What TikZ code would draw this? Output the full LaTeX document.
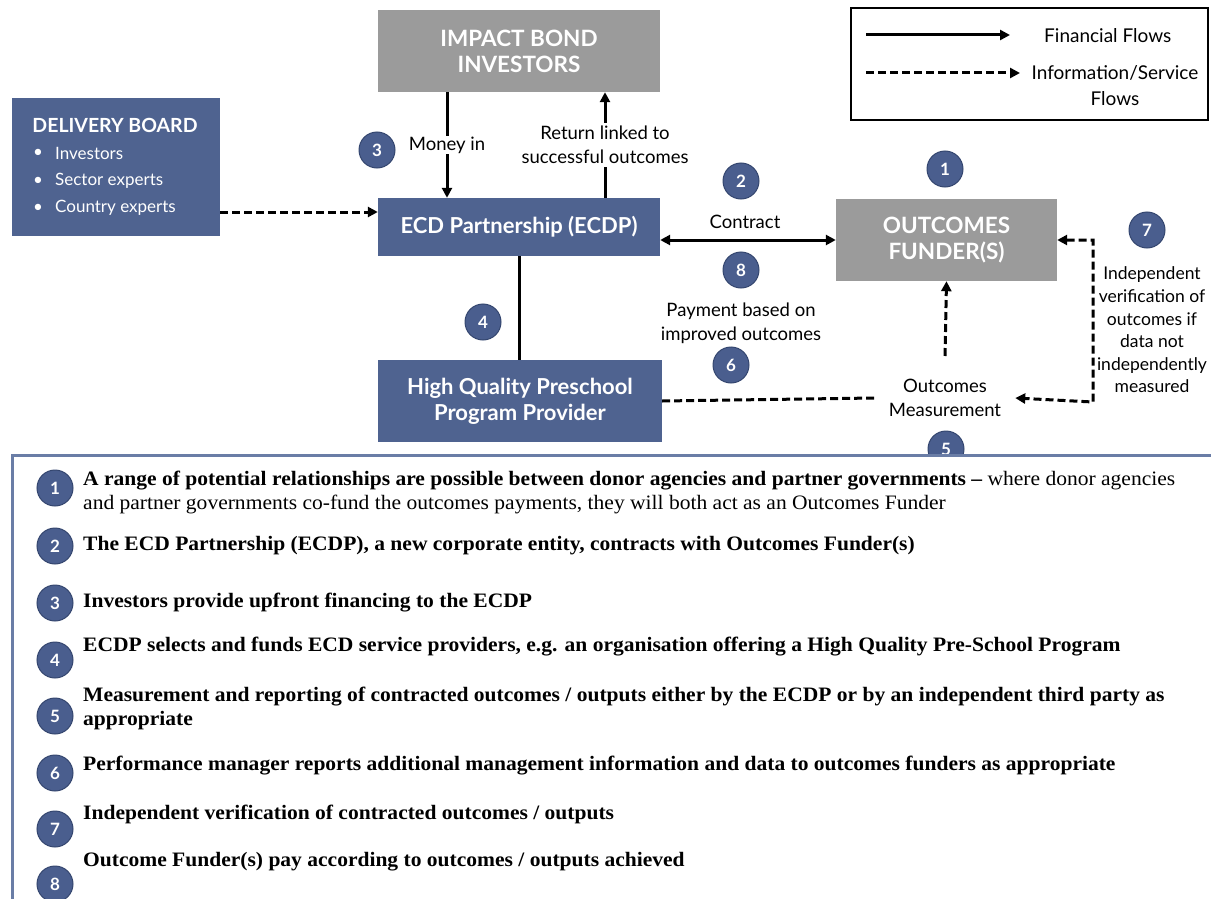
\documentclass[tikz,border=0pt]{standalone}
\usepackage{fontspec}
\setmainfont[FakeStretch=1.05]{Liberation Serif}
\newfontfamily\gsf{Lato}
\usetikzlibrary{arrows.meta}
\definecolor{boxblue}{HTML}{4F6390}
\definecolor{boxgray}{HTML}{9B9B9B}
\definecolor{numblue}{HTML}{4A5E8E}
\definecolor{numedge}{HTML}{34466F}
\definecolor{frameblue}{HTML}{6A7DA6}
\begin{document}
\begin{tikzpicture}[x=1pt,y=-1pt,
  >={Triangle[length=10pt,width=10pt]},
  bluebox/.style={fill=boxblue, text=white, align=center, inner sep=0pt,
    font=\gsf\bfseries\fontsize{22}{26}\selectfont},
  graybox/.style={fill=boxgray, text=white, align=center, inner sep=0pt,
    font=\gsf\bfseries\fontsize{22.5}{26}\selectfont},
  num/.style={circle, fill=numblue, draw=numedge, line width=1pt,
    minimum size=36pt, inner sep=0pt, text=white,
    font=\gsf\bfseries\fontsize{17}{17}\selectfont},
  lbl/.style={font=\gsf\fontsize{18.5}{24}\selectfont, align=center, inner sep=1pt},
  bul/.style={font=\gsf\fontsize{17}{20}\selectfont, text=white, anchor=west, inner sep=0pt},
  fin/.style={line width=3pt, ->},
  info/.style={line width=3pt, dash pattern=on 8pt off 4pt},
  item/.style={anchor=west, align=left, inner sep=0pt,
    font=\bfseries\fontsize{20.5}{24}\selectfont},
]
\useasboundingbox (0,0) rectangle (1211,899);

% ---------- main boxes ----------
\node[graybox, minimum width=282pt, minimum height=82pt] (ibi) at (519,51) {IMPACT BOND\\INVESTORS};
\node[bluebox, minimum width=208pt, minimum height=138pt] (board) at (116,167) {};
\node[font=\gsf\bfseries\fontsize{19.5}{22}\selectfont, text=white, inner sep=0pt] (boardtitle) at (115,125) {DELIVERY BOARD};
\node[bul] (b1) at (33,153) {\textbullet};
\node[bul] (b1t) at (55,153) {Investors};
\node[bul] (b2) at (33,181) {\textbullet};
\node[bul] (b2t) at (55,181) {Sector experts};
\node[bul] (b3) at (33,208) {\textbullet};
\node[bul] (b3t) at (55,208) {Country experts};
\node[bluebox, minimum width=282pt, minimum height=58pt] (ecdp) at (519,227) {ECD Partnership (ECDP)};
\node[graybox, minimum width=221pt, minimum height=82pt] (funder) at (946.5,240) {OUTCOMES\\FUNDER(S)};
\node[bluebox, minimum width=284pt, minimum height=82pt] (hq) at (520,401) {High Quality Preschool\\Program Provider};
\node[lbl, inner xsep=14pt] (meas) at (945,398) {Outcomes\\Measurement};

% ---------- legend ----------
\node[draw, line width=2.5pt, minimum width=357pt, minimum height=112pt] (legend) at (1029.5,64) {};
\coordinate (lf1) at (866,35);
\coordinate (lf2) at (1010,35);
\coordinate (li1) at (866,73);
\coordinate (li2) at (1020,73);
\draw[fin] (lf1) -- (lf2);
\draw[info, ->] (li1) -- (li2);
\node[lbl, anchor=west, font=\gsf\fontsize{19}{24}\selectfont] (lfin) at (1043,36) {Financial Flows};
\node[lbl, font=\gsf\fontsize{19}{26}\selectfont] (linfo) at (1115,86) {Information/Service\\Flows};

% ---------- connectors ----------
\draw[fin] ([xshift=-72pt]ibi.south) -- node[lbl, fill=white] (money) {Money in} ([xshift=-72pt]ecdp.north);
\draw[fin] ([xshift=86pt]ecdp.north) -- node[lbl, fill=white, inner ysep=3pt] (ret) {Return linked to\\successful outcomes} ([xshift=86pt]ibi.south);
\draw[info, ->] (board.east |- 0,212) -- (ecdp.west |- 0,212);
\draw[line width=3pt, <->] (ecdp.east |- funder.west) -- (funder.west);
\node[lbl] (contract) at (745,222) {Contract};
\draw[line width=3pt] (ecdp.south) -- (ecdp.south |- hq.north);
\draw[info] (hq.east) -- (meas.west);
\coordinate (measup) at (945,356);
\draw[info, ->] (measup) -- (funder.south);
\coordinate (vc1) at (1093,240);
\coordinate (vc2) at (1093,402);
\draw[info, <->] (funder.east) -- (vc1) -- (vc2) -- (meas.east);
\node[lbl, font=\gsf\fontsize{17.5}{22.6}\selectfont] (verif) at (1152,330) {Independent\\verification of\\outcomes if\\data not\\independently\\measured};
\node[lbl] (payment) at (741,323) {Payment based on\\improved outcomes};

% ---------- numbered markers in the diagram ----------
\node[num] (d1) at (945,169) {1};
\node[num] (d2) at (741,181) {2};
\node[num] (d3) at (377,150) {3};
\node[num] (d4) at (483,322) {4};
\node[num] (d5) at (946,449) {5};
\node[num] (d6) at (731,365) {6};
\node[num] (d7) at (1147,230) {7};
\node[num] (d8) at (741,270) {8};

% ---------- key panel ----------
\draw[frameblue, line width=3pt, fill=white] (12,455) rectangle (1240,930);

\node[num] (k1) at (55,488) {1};
\node[item] (t1) at (83,492) {A range of potential relationships are possible between donor agencies and partner governments –\mdseries\ where donor agencies\\\mdseries and partner governments co-fund the outcomes payments, they will both act as an Outcomes Funder};
\node[num] (k2) at (55,546) {2};
\node[item] (t2) at (83,546) {The ECD Partnership (ECDP), a new corporate entity, contracts with Outcomes Funder(s)};
\node[num] (k3) at (55,603) {3};
\node[item] (t3) at (83,603) {Investors provide upfront financing to the ECDP};
\node[num] (k4) at (55,660) {4};
\node[item] (t4) at (83,647) {ECDP selects and funds ECD service providers, e.g. an organisation offering a High Quality Pre-School Program};
\node[num] (k5) at (55,716) {5};
\node[item] (t5) at (83,708) {Measurement and reporting of contracted outcomes / outputs either by the ECDP or by an independent third party as\\appropriate};
\node[num] (k6) at (55,773) {6};
\node[item] (t6) at (83,766) {Performance manager reports additional management information and data to outcomes funders as appropriate};
\node[num] (k7) at (55,829) {7};
\node[item] (t7) at (83,814) {Independent verification of contracted outcomes / outputs};
\node[num] (k8) at (55,884) {8};
\node[item] (t8) at (83,862) {Outcome Funder(s) pay according to outcomes / outputs achieved};
\end{tikzpicture}
\end{document}
